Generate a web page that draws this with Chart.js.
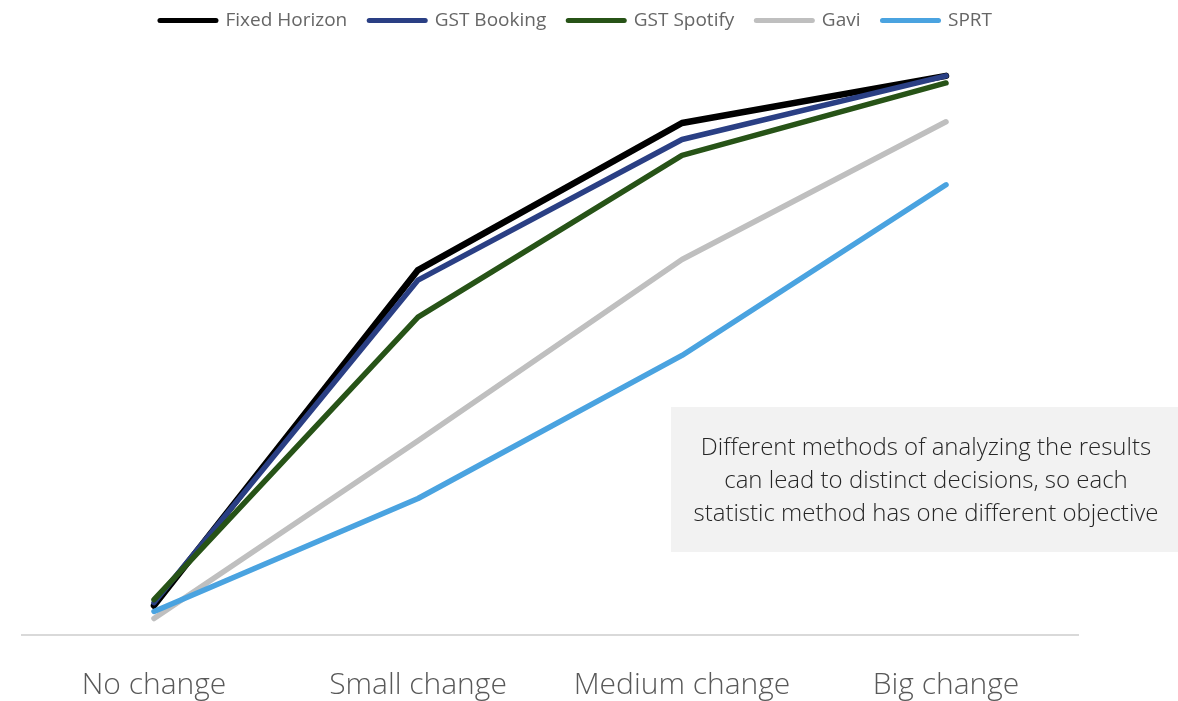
<!DOCTYPE html>
<html>
<head>
<meta charset="utf-8">
<script src="https://cdn.jsdelivr.net/npm/chart.js@4"></script>
<style>
  html, body { margin: 0; padding: 0; background: #ffffff; }
  #wrap { width: 1178px; height: 701px; position: relative; }
</style>
</head>
<body>
<div id="wrap"><canvas id="chart" width="1178" height="701"></canvas></div>
<script>
// Categories of effect size and the share of detected effects per method
const categories = ['No change', 'Small change', 'Medium change', 'Big change'];
const fixedHorizon = [5, 62, 87, 95];
const gstBooking = [5.5, 60.3, 84.2, 95];
const gstSpotify = [6, 54, 81.5, 93.8];
const gavi = [2.8, 33, 63.8, 87.2];
const sprt = [4, 23.2, 47.5, 76.5];

const seriesNames = ['Fixed Horizon', 'GST Booking', 'GST Spotify', 'Gavi', 'SPRT'];
const seriesValues = [fixedHorizon, gstBooking, gstSpotify, gavi, sprt];
const seriesColors = ['#000000', '#2a3f84', '#275317', '#bfbfbf', '#4aa3e0'];
const seriesWidths = [6.5, 5.5, 5.5, 5.5, 5.5];

const noteLines = [
  'Different methods of analyzing the results',
  'can lead to distinct decisions, so each',
  'statistic method has one different objective'
];

// Grey note box in the lower right of the plot
const noteBox = {
  id: 'noteBox',
  afterDatasetsDraw(chart) {
    const ctx = chart.ctx;
    ctx.save();
    ctx.fillStyle = '#f2f2f2';
    ctx.fillRect(671, 407, 507, 145);
    ctx.fillStyle = '#262626';
    ctx.font = '300 24px "Open Sans"';
    ctx.textAlign = 'center';
    ctx.textBaseline = 'middle';
    noteLines.forEach((t, i) => ctx.fillText(t, 926, 448 + i * 33));
    ctx.restore();
  }
};

// Nudge the legend row a little to the right of the plot centre
const legendShift = {
  id: 'legendShift',
  afterLayout(chart) {
    if (chart.legend) {
      chart.legend.left += 26;
      chart.legend.right += 26;
    }
  }
};

const datasets = seriesNames.map((name, i) => ({
  label: name,
  data: seriesValues[i],
  borderColor: seriesColors[i],
  backgroundColor: seriesColors[i],
  borderWidth: seriesWidths[i],
  borderCapStyle: 'round',
  borderJoinStyle: 'round',
  pointRadius: 0,
  pointHoverRadius: 0,
  tension: 0,
  fill: false,
  order: seriesNames.length - i
}));

new Chart(document.getElementById('chart'), {
  type: 'line',
  data: { labels: categories, datasets },
  plugins: [noteBox, legendShift],
  options: {
    responsive: false,
    animation: false,
    layout: { padding: { left: 22, right: 100, top: -11, bottom: -26 } },
    plugins: {
      tooltip: { enabled: false },
      legend: {
        display: true,
        position: 'top',
        labels: {
          usePointStyle: true,
          pointStyle: 'line',
          pointStyleWidth: 56,
          boxHeight: 10,
          padding: 22,
          color: '#666666',
          font: { family: '"Open Sans"', size: 19, weight: 400 },
          generateLabels(chart) {
            return chart.data.datasets.map((ds, i) => ({
              text: ds.label,
              datasetIndex: i,
              strokeStyle: ds.borderColor,
              fillStyle: ds.borderColor,
              lineWidth: 5,
              lineCap: 'round',
              pointStyle: 'line',
              fontColor: '#666666',
              hidden: false
            }));
          }
        }
      }
    },
    scales: {
      x: {
        offset: true,
        grid: { display: false },
        border: { display: true, color: '#d9d9d9', width: 2 },
        ticks: {
          color: '#595959',
          padding: 24,
          font: { family: '"Open Sans"', size: 30, weight: 300 }
        }
      },
      y: {
        display: false,
        min: 0,
        max: 101.1
      }
    }
  }
});
</script>
</body>
</html>
